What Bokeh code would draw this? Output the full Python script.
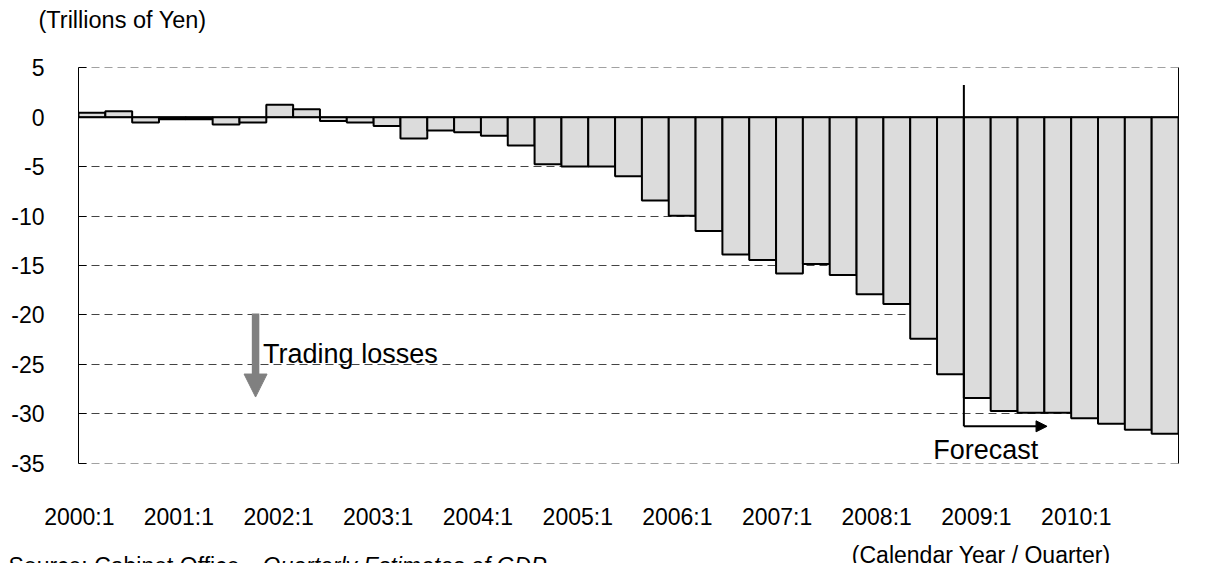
from bokeh.plotting import figure
from bokeh.layouts import column
from bokeh.models import Range1d, FixedTicker, LinearAxis, Span, Label, Arrow, NormalHead
from bokeh.embed import file_html
from bokeh.resources import INLINE

# ---- data -------------------------------------------------------------
quarters = [f"{y}:{q}" for y in range(2000, 2011) for q in (1, 2, 3, 4)][:41]
trading_gains = [0.45, 0.6, -0.55, -0.2, -0.2, -0.75, -0.55, 1.25, 0.8, -0.4,
                 -0.55, -0.9, -2.15, -1.35, -1.52, -1.88, -2.87, -4.76, -5.0, -5.0,
                 -5.98, -8.44, -9.96, -11.5, -13.9, -14.45, -15.8, -14.85, -15.97, -17.9,
                 -18.9, -22.4, -26.0, -28.4, -29.7, -29.9, -29.9, -30.45, -31.0, -31.6,
                 -32.0]
x_tick_labels = ["2000:1", "2001:1", "2002:1", "2003:1", "2004:1", "2005:1",
                 "2006:1", "2007:1", "2008:1", "2009:1", "2010:1"]
x_tick_pos = [-0.47, 3.24, 6.96, 10.67, 14.39, 18.11, 21.82, 25.54, 29.25, 32.97, 36.69]
y_ticks = [-35, -30, -25, -20, -15, -10, -5, 0, 5]
y_tick_labels = ["-35", "-30", "-25", "-20", "-15", "-10", "-5", "0", "5"]
forecast_start = 32.5   # boundary between 2008:1 and 2008:2
FONT = "Liberation Sans"
W = 1206
HEAD_H, MAIN_H, FOOT_H = 45, 492, 26

idx = list(range(len(trading_gains)))


def text_strip(height, top):
    """A plain figure whose data units equal page pixels (y grows downward)."""
    f = figure(width=W, height=height, output_backend="svg", toolbar_location=None,
               x_range=Range1d(0, W), y_range=Range1d(top + height, top),
               min_border=0, frame_align=False,
               background_fill_color="white", border_fill_color="white")
    f.axis.visible = False
    f.grid.visible = False
    f.outline_line_color = None
    return f


def add_text(f, text, x, y, size=23, align="left", style="normal"):
    # y is the wanted baseline (page px); compensate renderer baseline offset
    f.add_layout(Label(x=x, y=y - 0.315 * size, text=text, text_font=FONT,
                       text_font_size=f"{size}px", text_font_style=style,
                       text_baseline="alphabetic", text_align=align, text_color="black"))


# ---- header ----------------------------------------------------------
head = text_strip(HEAD_H, 0)
add_text(head, "(Trillions of Yen)", 38, 27, size=23.5)

# ---- main chart ------------------------------------------------------
p = figure(width=W, height=MAIN_H, output_backend="svg", toolbar_location=None,
           title=None, x_range=Range1d(-0.5, len(idx) - 0.5), y_range=Range1d(-35.02, 5.02),
           min_border_left=78, min_border_right=28, min_border_top=22, min_border_bottom=74,
           frame_align=False,
           background_fill_color="white", border_fill_color="white")
p.outline_line_color = None

p.xgrid.visible = False
p.ygrid.ticker = FixedTicker(ticks=y_ticks)
p.ygrid.grid_line_color = "#444444"
p.ygrid.grid_line_dash = "8 5"
p.ygrid.grid_line_width = 1

yax = p.yaxis[0]
yax.ticker = FixedTicker(ticks=y_ticks)
yax.major_label_overrides = {t: s for t, s in zip(y_ticks, y_tick_labels)}
yax.major_tick_in = 8
yax.major_tick_out = 0
yax.minor_tick_line_color = None
yax.axis_line_color = "black"
yax.major_tick_line_color = "black"
yax.major_label_standoff = 34
yax.major_label_text_font = FONT
yax.major_label_text_font_size = "23px"
yax.major_label_text_color = "black"

xax = p.xaxis[0]
xax.ticker = FixedTicker(ticks=x_tick_pos)
xax.major_label_overrides = {pos: lab for pos, lab in zip(x_tick_pos, x_tick_labels)}
xax.axis_line_color = None
xax.major_tick_line_color = None
xax.minor_tick_line_color = None
xax.major_label_standoff = 34
xax.major_label_text_font = FONT
xax.major_label_text_font_size = "23px"
xax.major_label_text_color = "black"

rax = LinearAxis(ticker=FixedTicker(ticks=[]), axis_line_color="black", axis_line_width=1,
                 major_tick_line_color=None, minor_tick_line_color=None,
                 major_label_text_font_size="0px")
p.add_layout(rax, "right")

p.vbar(x=idx, top=trading_gains, bottom=0, width=1.0,
       fill_color="#dcdcdc", line_color="black", line_width=2)

p.add_layout(Span(location=0, dimension="width", line_color="black", line_width=1.5))

p.segment(x0=[forecast_start], y0=[3.25], x1=[forecast_start], y1=[-31.26],
          line_color="black", line_width=2)
p.add_layout(Arrow(end=NormalHead(size=11, fill_color="black", line_color="black"),
                   x_start=forecast_start, y_start=-31.26, x_end=35.6, y_end=-31.26,
                   line_color="black", line_width=2))
p.add_layout(Label(x=31.36, y=-33.67, text="Forecast", text_font=FONT,
                   text_font_size="27px", text_baseline="alphabetic", text_align="left",
                   text_color="black"))

p.add_layout(Arrow(end=NormalHead(size=23, fill_color="#808080", line_color="#808080"),
                   x_start=6.1, y_start=-19.85, x_end=6.1, y_end=-28.3,
                   line_color="#808080", line_width=7.5))
p.add_layout(Label(x=6.38, y=-23.91, text="Trading losses", text_font=FONT,
                   text_font_size="27px", text_baseline="alphabetic", text_align="left",
                   text_color="black"))

# ---- footer ----------------------------------------------------------
foot = text_strip(FOOT_H, HEAD_H + MAIN_H)
add_text(foot, "(Calendar Year / Quarter)", 1110, 561.5, align="right")
add_text(foot, "Source: Cabinet Office, ", 8, 572.5)
add_text(foot, "Quarterly Estimates of GDP", 262, 572.5, style="italic")

layout = column(head, p, foot, spacing=0)
open("out.html", "w").write(file_html(layout, INLINE))
